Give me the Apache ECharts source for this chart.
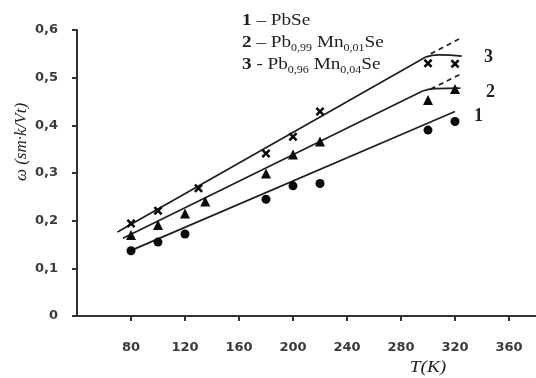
<!DOCTYPE html>
<html>
<head>
<meta charset="utf-8">
<script src="https://cdn.jsdelivr.net/npm/echarts@6/dist/echarts.min.js"></script>
<style>
  html, body { margin: 0; padding: 0; background: #fff; }
  #main { width: 536px; height: 378px; }
</style>
</head>
<body>
<div id="main"></div>
<script>
// temperature (K) and thermal resistivity for the three samples
var T1 = [80, 100, 120, 180, 200, 220, 300, 320];
var w1 = [0.137, 0.155, 0.172, 0.245, 0.273, 0.278, 0.390, 0.408];
var T2 = [80, 100, 120, 135, 180, 200, 220, 300, 320];
var w2 = [0.170, 0.191, 0.215, 0.240, 0.299, 0.339, 0.366, 0.453, 0.476];
var T3 = [80, 100, 130, 180, 200, 220, 300, 320];
var w3 = [0.194, 0.221, 0.268, 0.341, 0.376, 0.429, 0.530, 0.529];

// hand drawn trend lines
var fit1 = [[78, 0.135], [320, 0.429]];
var fit2 = [[74, 0.163], [296, 0.472]];
var bend2 = [[296, 0.472], [305, 0.477], [324, 0.478]];
var dash2 = [[302, 0.476], [324, 0.507]];
var fit3 = [[70, 0.176], [298, 0.543]];
var bend3 = [[298, 0.543], [308, 0.548], [325, 0.545]];
var dash3 = [[302, 0.550], [325, 0.584]];

var xTicks = [40, 80, 120, 160, 200, 240, 280, 320, 360, 380];
var yTicks = [0, 0.1, 0.2, 0.3, 0.4, 0.5, 0.6];

var crossPath = 'path://M2,0L5,3L8,0L10,2L7,5L10,8L8,10L5,7L2,10L0,8L3,5L0,2Z';

function pairs(xs, ys) {
    return xs.map(function (x, i) { return [x, ys[i]]; });
}

var chart = echarts.init(document.getElementById('main'));
var ink = '#1e1e1e';

function lineSeries(data, opts) {
    return Object.assign({
        type: 'line',
        data: data,
        symbol: 'none',
        silent: true,
        lineStyle: { color: ink, width: 1.7 }
    }, opts || {});
}

function pointSeries(data, symbol, size) {
    return {
        type: 'scatter',
        data: data,
        symbol: symbol,
        symbolSize: size,
        itemStyle: { color: '#0a0a0a', opacity: 1 },
        z: 5
    };
}

var option = {
    animation: false,
    grid: { left: 77, right: -8.5, top: 30, bottom: 62 },
    xAxis: {
        type: 'value',
        min: xTicks[0],
        max: xTicks[xTicks.length - 1],
        interval: 40,
        splitLine: { show: false },
        axisLine: { lineStyle: { color: '#333', width: 2 } },
        axisTick: { length: 5, lineStyle: { color: '#333', width: 2 } },
        axisLabel: {
            showMinLabel: false,
            showMaxLabel: false,
            margin: 25,
            color: '#3a3a3a',
            fontFamily: 'DejaVu Sans',
            fontWeight: 'bold',
            fontSize: 13
        }
    },
    yAxis: {
        type: 'value',
        min: yTicks[0],
        max: yTicks[yTicks.length - 1],
        interval: 0.1,
        splitLine: { show: false },
        axisLine: { show: true, lineStyle: { color: '#333', width: 2 } },
        axisTick: { show: true, length: 5, lineStyle: { color: '#333', width: 2 } },
        axisLabel: {
            margin: 19,
            color: '#3a3a3a',
            fontFamily: 'DejaVu Sans',
            fontWeight: 'bold',
            fontSize: 13,
            formatter: function (v) {
                return v === 0 ? '0' : v.toFixed(1).replace('.', ',');
            }
        }
    },
    graphic: [
        {
            type: 'text', left: 242, top: 10, scaleX: 1.2,
            style: {
                text: '{b|1} – PbSe\n{b|2} – Pb{s|0,99} Mn{s|0,01}Se\n{b|3} - Pb{s|0,96} Mn{s|0,04}Se',
                fontFamily: 'Liberation Serif', fontSize: 16, fill: '#222',
                lineHeight: 22,
                rich: {
                    b: { fontFamily: 'Liberation Serif', fontSize: 16, fontWeight: 'bold', fill: '#222', lineHeight: 22 },
                    s: { fontFamily: 'Liberation Serif', fontSize: 10, fill: '#222', lineHeight: 22, verticalAlign: 'bottom', padding: [0, 0, 1, 0] }
                }
            }
        },
        { type: 'text', x: 484, y: 48, style: { text: '3', fontFamily: 'Liberation Serif', fontSize: 18, fontWeight: 'bold', fill: '#222' } },
        { type: 'text', x: 486, y: 83, style: { text: '2', fontFamily: 'Liberation Serif', fontSize: 18, fontWeight: 'bold', fill: '#222' } },
        { type: 'text', x: 474, y: 107, style: { text: '1', fontFamily: 'Liberation Serif', fontSize: 18, fontWeight: 'bold', fill: '#222' } },
        {
            type: 'text', x: 22, y: 142, rotation: Math.PI / 2,
            style: {
                text: 'ω (sm·k/Vt)', fontFamily: 'Liberation Serif', fontStyle: 'italic',
                fontSize: 17, fill: '#222', align: 'center', verticalAlign: 'middle'
            }
        },
        {
            type: 'text', x: 428, y: 368, scaleX: 1.2,
            style: {
                text: 'T(K)', fontFamily: 'Liberation Serif', fontStyle: 'italic',
                fontSize: 16, fill: '#222', align: 'center', verticalAlign: 'middle'
            }
        }
    ],
    series: [
        lineSeries(fit1),
        lineSeries(fit2),
        lineSeries(bend2, { smooth: true }),
        lineSeries(dash2, { lineStyle: { color: ink, width: 1.7, type: [5, 4] } }),
        lineSeries(fit3),
        lineSeries(bend3, { smooth: true }),
        lineSeries(dash3, { lineStyle: { color: ink, width: 1.7, type: [5, 4] } }),
        pointSeries(pairs(T1, w1), 'circle', 9),
        pointSeries(pairs(T2, w2), 'triangle', 10),
        pointSeries(pairs(T3, w3), crossPath, 9)
    ]
};

chart.setOption(option);
</script>
</body>
</html>
